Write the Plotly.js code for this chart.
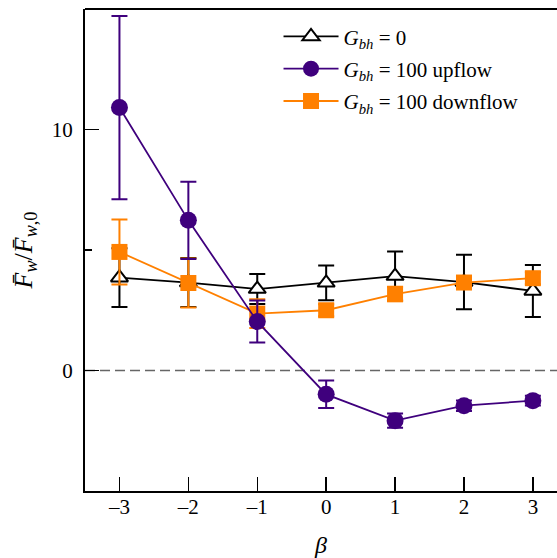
<!DOCTYPE html>
<html>
<head>
<meta charset="utf-8">
<script src="https://cdn.plot.ly/plotly-3.0.1.min.js"></script>
<style>
html,body{margin:0;padding:0;overflow:hidden;background:#fff;}
#chart{width:557px;height:558px;}
</style>
</head>
<body>
<div id="chart"></div>
<script>
// data
const beta = [-3, -2, -1, 0, 1, 2, 3];
const betaTickText = ['–3', '–2', '–1', '0', '1', '2', '3'];

const g0 = [3.85, 3.65, 3.38, 3.64, 3.92, 3.67, 3.30];
const g0Err = [1.22, 1.02, 0.62, 0.72, 1.02, 1.13, 1.08];

const upflow = [10.91, 6.23, 2.03, -0.99, -2.08, -1.46, -1.25];
const upflowErr = [3.80, 1.60, 0.87, 0.57, 0.30, 0.22, 0.20];

const downflow = [4.92, 3.63, 2.36, 2.50, 3.17, 3.65, 3.83];
const downflowErr = [1.35, 1.02, 0.60, 0.25, 0.30, 0.25, 0.25];

const names = [
  '<i>G</i><sub><i>bh</i></sub> = 0',
  '<i>G</i><sub><i>bh</i></sub> = 100 upflow',
  '<i>G</i><sub><i>bh</i></sub> = 100 downflow'
];

const purple = '#3f007d';
const orange = '#ff8000';

const traces = [
  {
    x: beta, y: g0, name: names[0], type: 'scatter', mode: 'lines+markers',
    legendrank: 1, legendgroup: 'a',
    line: {color: '#000', width: 1.8},
    marker: {symbol: 'triangle-up', size: 15, color: '#fff', line: {color: '#000', width: 2}},
    error_y: {type: 'data', array: g0Err, visible: true, color: '#000', thickness: 2, width: 8}
  },
  {
    x: beta, y: downflow, name: names[2], type: 'scatter', mode: 'lines+markers',
    legendrank: 3, legendgroup: 'c',
    line: {color: orange, width: 1.8},
    marker: {symbol: 'square', size: 16, color: orange},
    error_y: {type: 'data', array: downflowErr, visible: true, color: orange, thickness: 2, width: 8}
  },
  {
    x: beta, y: upflow, name: names[1], type: 'scatter', mode: 'lines+markers',
    legendrank: 2, legendgroup: 'b',
    line: {color: purple, width: 1.8},
    marker: {symbol: 'circle', size: 17, color: purple},
    error_y: {type: 'data', array: upflowErr, visible: true, color: purple, thickness: 2, width: 8}
  }
];

const fam = 'Liberation Serif';

const layout = {
  width: 557, height: 558,
  margin: {l: 85, r: 0, t: 9, b: 67},
  paper_bgcolor: '#fff', plot_bgcolor: '#fff',
  font: {family: fam, color: '#000', size: 21},
  showlegend: true,
  legend: {
    x: 0.41, y: 0.985, xanchor: 'left', yanchor: 'top',
    bgcolor: 'rgba(0,0,0,0)', borderwidth: 0,
    font: {family: fam, size: 21, color: '#000'},
    itemwidth: 55, tracegroupgap: 2
  },
  xaxis: {
    range: [-3.5, 3.35], tickvals: beta, ticktext: betaTickText,
    ticks: 'inside', ticklen: 14, tickwidth: 1.5, tickcolor: '#000',
    showline: true, linecolor: '#000', linewidth: 2, mirror: false,
    showgrid: false, zeroline: false,
    ticklabelstandoff: -4,
    tickfont: {family: fam, size: 21, color: '#000'},
    title: {text: '<i>β</i>', font: {family: fam, size: 24, color: '#000'}, standoff: 18}
  },
  yaxis: {
    range: [-5, 15], tickvals: [0, 10], ticktext: ['0', '10'],
    ticks: 'inside', ticklen: 14, tickwidth: 1.5, tickcolor: '#000',
    minor: {tickvals: [-5, 5, 15], ticks: 'inside', ticklen: 7, tickwidth: 1.5, tickcolor: '#000', showgrid: false},
    showline: true, linecolor: '#000', linewidth: 2, mirror: false,
    showgrid: false, zeroline: false,
    ticklabelstandoff: 6,
    tickfont: {family: fam, size: 21, color: '#000'},
    title: {
      text: '<i>F̄</i><sub><i>w</i></sub>/<i>F̄</i><sub><i>w</i>,0</sub>',
      font: {family: fam, size: 26, color: '#000'}, standoff: 12
    }
  },
  shapes: [
    {
      type: 'line', xref: 'paper', x0: 0, x1: 1, yref: 'y', y0: 0, y1: 0,
      line: {color: '#666', width: 1.5, dash: '10px,5px'}, layer: 'below'
    },
    {
      type: 'line', xref: 'paper', x0: 0, x1: 1, yref: 'paper', y0: 1, y1: 1,
      line: {color: '#000', width: 2}, layer: 'above'
    }
  ]
};

Plotly.newPlot('chart', traces, layout, {displayModeBar: false, staticPlot: true});
</script>
</body>
</html>
